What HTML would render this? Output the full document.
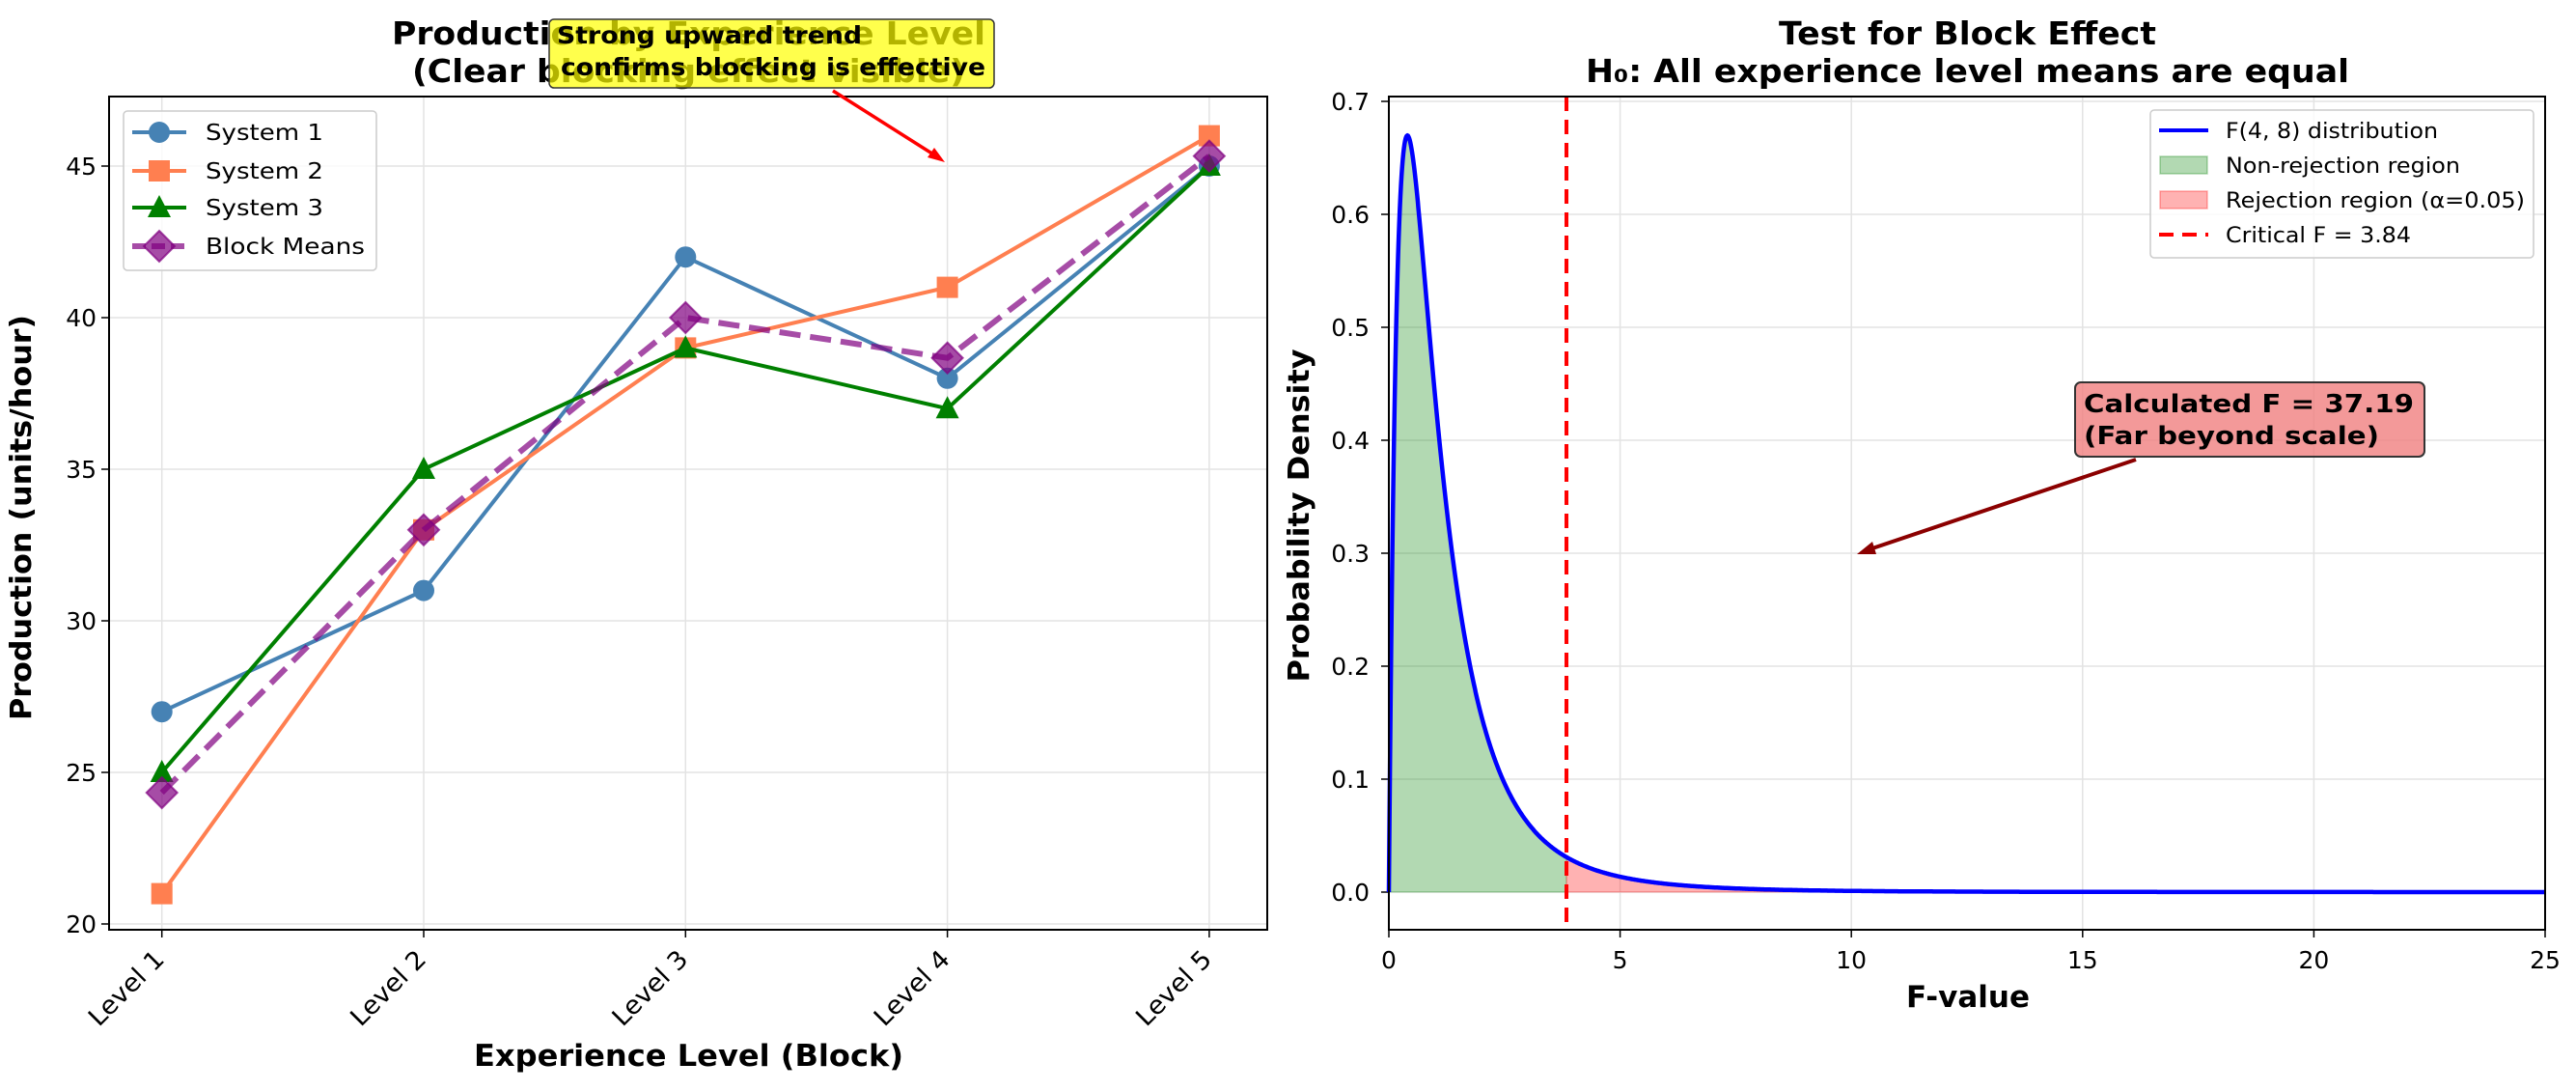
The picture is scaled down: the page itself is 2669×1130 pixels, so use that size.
<!DOCTYPE html>
<html><head><meta charset="utf-8"><style>
html,body{margin:0;padding:0;background:#fff;}
svg{display:block;font-family:"DejaVu Sans","Liberation Sans",sans-serif;}
</style></head><body>
<svg id="s" width="2669" height="1130" viewBox="0 0 2669 1130" xmlns="http://www.w3.org/2000/svg">
<rect width="2669" height="1130" fill="#fff"/>
<g id="left"></g>
<g id="right"></g>
</svg>
<script>
const NS="http://www.w3.org/2000/svg";
function el(p,t,a,txt){const e=document.createElementNS(NS,t);for(const k in a)e.setAttribute(k,a[k]);if(txt!==undefined)e.textContent=txt;p.appendChild(e);return e;}
function tl(p,a,txt,w){a.textLength=w;a.lengthAdjust='spacingAndGlyphs';return el(p,'text',a,txt);}
const L=document.getElementById('left'),R=document.getElementById('right');
// LEFT
const lx0=113,lx1=1313,ly0=100,ly1=963;
const X=i=>167.7+i*271.3, Y=v=>957-(v-20)*31.4;
for(let i=0;i<5;i++){el(L,'line',{x1:X(i),x2:X(i),y1:ly0,y2:ly1,stroke:'#e3e3e3','stroke-width':1.5});}
for(let v=20;v<=45;v+=5){el(L,'line',{x1:lx0,x2:lx1,y1:Y(v),y2:Y(v),stroke:'#e3e3e3','stroke-width':1.5});
 el(L,'line',{x1:lx0-8,x2:lx0,y1:Y(v),y2:Y(v),stroke:'#000','stroke-width':1.5});
 el(L,'text',{x:lx0-13,y:Y(v)+9,'text-anchor':'end','font-size':25},v);}
for(let i=0;i<5;i++){el(L,'line',{x1:X(i),x2:X(i),y1:ly1,y2:ly1+8,stroke:'#000','stroke-width':1.5});
 const ax=X(i)+4, ay=ly1+32;
 tl(L,{x:ax,y:ay,'text-anchor':'end','font-size':26,transform:`rotate(-45 ${ax} ${ay})`},'Level '+(i+1),98);}
const series=[
 {d:[27,31,42,38,45],c:'#4682b4',m:'o'},
 {d:[21,33,39,41,46],c:'#ff7f50',m:'s'},
 {d:[25,35,39,37,45],c:'#008000',m:'^'},
 {d:[24.33,33,40,38.67,45.33],c:'#800080',m:'D',dash:true}];
function marker(p,m,x,y,c){
 if(m=='o')el(p,'circle',{cx:x,cy:y,r:11,fill:c});
 if(m=='s')el(p,'rect',{x:x-11,y:y-11,width:22,height:22,fill:c});
 if(m=='^')el(p,'polygon',{points:`${x},${y-13} ${x+12},${y+10} ${x-12},${y+10}`,fill:c});
 if(m=='D')el(p,'polygon',{points:`${x},${y-16} ${x+16},${y} ${x},${y+16} ${x-16},${y}`,fill:c,'fill-opacity':0.7,stroke:c,'stroke-opacity':0.7,'stroke-width':2});
}
series.forEach(s=>{
 const pts=s.d.map((v,i)=>X(i)+','+Y(v)).join(' ');
 el(L,'polyline',{points:pts,fill:'none',stroke:s.c,'stroke-width':s.dash?6:4,'stroke-opacity':s.dash?0.7:1,'stroke-dasharray':s.dash?'22,10':'none'});
 s.d.forEach((v,i)=>marker(L,s.m,X(i),Y(v),s.c));
});
el(L,'rect',{x:lx0,y:ly0,width:lx1-lx0,height:ly1-ly0,fill:'none',stroke:'#000','stroke-width':2});
el(L,'rect',{x:128,y:115,width:262,height:165,rx:4,fill:'#fff','fill-opacity':0.8,stroke:'#ccc','stroke-width':1.5});
const ly=[137,177,215,255],names=['System 1','System 2','System 3','Block Means'],lw=[122,122,122,165];
series.forEach((s,i)=>{el(L,'line',{x1:137,x2:193,y1:ly[i],y2:ly[i],stroke:s.c,'stroke-width':s.dash?6:4,'stroke-opacity':s.dash?0.7:1,'stroke-dasharray':s.dash?'14,6':'none'});
 marker(L,s.m,165,ly[i],s.c);
 tl(L,{x:213,y:ly[i]+8,'font-size':23},names[i],lw[i]);});
tl(L,{x:406,y:46,'font-size':33,'font-weight':'bold'},'Production by Experience Level',615);
tl(L,{x:427,y:85,'font-size':33,'font-weight':'bold'},'(Clear blocking effect visible)',573);
el(L,'rect',{x:569,y:20,width:461,height:71,rx:5,fill:'#ffff00','fill-opacity':0.7,stroke:'#333','stroke-width':1.5});
tl(L,{x:577,y:45,'font-size':25,'font-weight':'bold'},'Strong upward trend',316);
tl(L,{x:581,y:78,'font-size':25,'font-weight':'bold'},'confirms blocking is effective',440);
el(L,'line',{x1:863,y1:94,x2:972,y2:163,stroke:'#f00','stroke-width':3.5});
el(L,'polygon',{points:'979,168 961,163 968,153',fill:'#f00'});
tl(L,{x:32,y:536,'text-anchor':'middle','font-size':30,'font-weight':'bold',transform:'rotate(-90 32 536)'},'Production (units/hour)',420);
tl(L,{x:491,y:1104,'font-size':31,'font-weight':'bold'},'Experience Level (Block)',445);
// RIGHT
const rx0=1439,rx1=2637,ry0=100,ry1=963;
const FX=x=>rx0+x*47.92, FY=p=>924-p*1170;
for(let x=0;x<=25;x+=5){el(R,'line',{x1:FX(x),x2:FX(x),y1:ry0,y2:ry1,stroke:'#e3e3e3','stroke-width':1.5});
 el(R,'line',{x1:FX(x),x2:FX(x),y1:ry1,y2:ry1+8,stroke:'#000','stroke-width':1.5});
 el(R,'text',{x:FX(x),y:1003,'text-anchor':'middle','font-size':25},x);}
for(let k=0;k<=7;k++){const p=k/10;el(R,'line',{x1:rx0,x2:rx1,y1:FY(p),y2:FY(p),stroke:'#e3e3e3','stroke-width':1.5});
 el(R,'line',{x1:rx0-8,x2:rx0,y1:FY(p),y2:FY(p),stroke:'#000','stroke-width':1.5});
 el(R,'text',{x:rx0-20,y:FY(p)+9,'text-anchor':'end','font-size':25},p.toFixed(1));}
const f=x=>5*x*Math.pow(1+x/2,-6);
const crit=3.84;
let g='M'+FX(0)+','+FY(0),r='M'+FX(crit)+','+FY(0)+'L'+FX(crit)+','+FY(f(crit)),c='';
for(let i=0;i<=2000;i++){const x=i*25/2000;const pt=FX(x).toFixed(1)+','+FY(f(x)).toFixed(1);
 c+=(i?'L':'M')+pt; if(x<=crit)g+='L'+pt; else r+='L'+pt;}
g+='L'+FX(crit)+','+FY(f(crit))+'L'+FX(crit)+','+FY(0)+'Z';
r+='L'+FX(25)+','+FY(0)+'Z';
el(R,'path',{d:g,fill:'#008000','fill-opacity':0.3,stroke:'#008000','stroke-opacity':0.3});
el(R,'path',{d:r,fill:'#ff0000','fill-opacity':0.3,stroke:'#ff0000','stroke-opacity':0.3});
el(R,'path',{d:c,fill:'none',stroke:'#0000ff','stroke-width':4.5});
el(R,'line',{x1:FX(crit),x2:FX(crit),y1:ry0,y2:ry1,stroke:'#f00','stroke-width':4,'stroke-dasharray':'15,9'});
el(R,'rect',{x:rx0,y:ry0,width:rx1-rx0,height:ry1-ry0,fill:'none',stroke:'#000','stroke-width':2});
el(R,'rect',{x:2228,y:114,width:397,height:153,rx:4,fill:'#fff','fill-opacity':0.8,stroke:'#ccc','stroke-width':1.5});
const rl=[135,171,207,243];
el(R,'line',{x1:2237,x2:2288,y1:rl[0],y2:rl[0],stroke:'#00f','stroke-width':4});
el(R,'rect',{x:2238,y:rl[1]-9,width:49,height:18,fill:'#008000','fill-opacity':0.3,stroke:'#008000','stroke-opacity':0.3,'stroke-width':1.5});
el(R,'rect',{x:2238,y:rl[2]-9,width:49,height:18,fill:'#ff0000','fill-opacity':0.3,stroke:'#ff0000','stroke-opacity':0.3,'stroke-width':1.5});
el(R,'line',{x1:2237,x2:2288,y1:rl[3],y2:rl[3],stroke:'#f00','stroke-width':4,'stroke-dasharray':'15,9'});
const rt=['F(4, 8) distribution','Non-rejection region','Rejection region (α=0.05)','Critical F = 3.84'],rw=[220,243,310,192];
rt.forEach((t,i)=>tl(R,{x:2306,y:rl[i]+8,'font-size':22},t,rw[i]));
tl(R,{x:1843,y:46,'font-size':33,'font-weight':'bold'},'Test for Block Effect',391);
tl(R,{x:1643,y:85,'font-size':33,'font-weight':'bold'},'H₀: All experience level means are equal',791);
el(R,'rect',{x:2150,y:396,width:362,height:77,rx:6,fill:'#f08080','fill-opacity':0.8,stroke:'#333','stroke-width':2});
tl(R,{x:2159,y:427,'font-size':26,'font-weight':'bold'},'Calculated F = 37.19',342);
tl(R,{x:2159,y:460,'font-size':26,'font-weight':'bold'},'(Far beyond scale)',306);
el(R,'line',{x1:2213,y1:476,x2:1934,y2:570,stroke:'#8b0000','stroke-width':4});
el(R,'polygon',{points:'1924,574 1940,561 1944,574',fill:'#8b0000'});
tl(R,{x:1356,y:534,'text-anchor':'middle','font-size':30,'font-weight':'bold',transform:'rotate(-90 1356 534)'},'Probability Density',345);
tl(R,{x:1975,y:1043,'font-size':31,'font-weight':'bold'},'F-value',128);
</script>
</body></html>
